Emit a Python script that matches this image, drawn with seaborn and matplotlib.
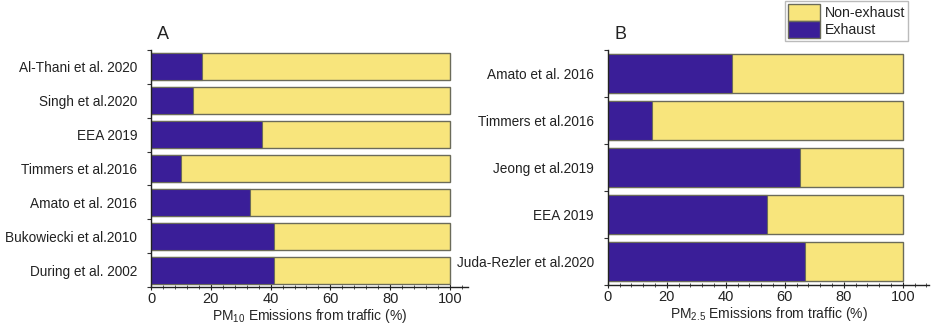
import matplotlib
matplotlib.use('Agg')
import matplotlib.pyplot as plt
from matplotlib.ticker import MultipleLocator, FixedLocator
from matplotlib.patches import Patch
import seaborn as sns

# PM10 panel (A)
studies_pm10 = ['Al-Thani et al. 2020', 'Singh et al.2020', 'EEA 2019', 'Timmers et al.2016',
                'Amato et al. 2016', 'Bukowiecki et al.2010', 'During et al. 2002']
exhaust_pm10 = [17, 14, 37, 10, 33, 41, 41]
nonexhaust_pm10 = [83, 86, 63, 90, 67, 59, 59]

# PM2.5 panel (B)
studies_pm25 = ['Amato et al. 2016', 'Timmers et al.2016', 'Jeong et al.2019',
                'EEA 2019', 'Juda-Rezler et al.2020']
exhaust_pm25 = [42, 15, 65, 54, 67]
nonexhaust_pm25 = [58, 85, 35, 46, 33]

purple = '#3a1e98'
yellow = '#f8e57c'
edge = '#6b6b5a'

sns.set_style('white')
plt.rcParams['font.family'] = ['Liberation Sans', 'DejaVu Sans']
plt.rcParams['mathtext.fontset'] = 'custom'
plt.rcParams['mathtext.rm'] = 'Liberation Sans'
plt.rcParams['mathtext.it'] = 'Liberation Sans'
plt.rcParams['text.color'] = '#222222'


def draw_panel(ax, labels, exhaust, nonexhaust, width, xmax, xlabel, letter):
    totals = [e + n for e, n in zip(exhaust, nonexhaust)]
    sns.barplot(x=totals, y=labels, color=yellow, width=width, orient='h',
                edgecolor=edge, linewidth=1, saturation=1, ax=ax)
    sns.barplot(x=exhaust, y=labels, color=purple, width=width, orient='h',
                edgecolor=edge, linewidth=0.8, saturation=1, ax=ax)
    ax.set_xlim(0, xmax)
    ax.set_ylim(len(labels) - 0.5, -0.5)
    ax.set_xticks([0, 20, 40, 60, 80, 100])
    ax.xaxis.set_minor_locator(MultipleLocator(4))
    ax.yaxis.set_minor_locator(FixedLocator([i - 0.5 for i in range(len(labels) + 1)]))
    ax.tick_params(which='both', bottom=True, left=True)
    ax.tick_params(axis='y', which='major', length=0, labelsize=9.8, colors='#222222', pad=10)
    ax.tick_params(axis='y', which='minor', length=3, width=0.8, direction='out', color='#333333')
    ax.tick_params(axis='x', which='major', length=5, width=0.8, direction='inout',
                   labelsize=10.5, colors='#222222', pad=1)
    ax.tick_params(axis='x', which='minor', length=3, width=0.6, direction='inout', color='#333333')
    for s in ['top', 'right']:
        ax.spines[s].set_visible(False)
    for s in ['left', 'bottom']:
        ax.spines[s].set_color('#222222')
        ax.spines[s].set_linewidth(1)
    ax.set_xlabel(xlabel, fontsize=10, labelpad=1)
    ax.set_ylabel('')
    ax.text(0.02, 1.03, letter, transform=ax.transAxes, fontsize=13, ha='left', va='bottom')


fig = plt.figure(figsize=(9.35, 3.31), dpi=100)
ax1 = fig.add_axes([0.1615, 0.133, 0.339, 0.716])
ax2 = fig.add_axes([0.650, 0.139, 0.344, 0.710])

draw_panel(ax1, studies_pm10, exhaust_pm10, nonexhaust_pm10, 0.8, 106,
           r'PM$_{10}$ Emissions from traffic (%)', 'A')
draw_panel(ax2, studies_pm25, exhaust_pm25, nonexhaust_pm25, 0.85, 109,
           r'PM$_{2.5}$ Emissions from traffic (%)', 'B')

handles = [Patch(facecolor=yellow, edgecolor=edge, label='Non-exhaust'),
           Patch(facecolor=purple, edgecolor=edge, label='Exhaust')]
fig.legend(handles=handles, loc='upper left', bbox_to_anchor=(0.838, 1.0),
           fontsize=10.2, frameon=True, fancybox=False, edgecolor='#aaaaaa',
           handlelength=2.3, handleheight=1.45, handletextpad=0.3, labelspacing=0.0,
           borderpad=0.2, borderaxespad=0.1)

fig.savefig('out.png', dpi=100)
